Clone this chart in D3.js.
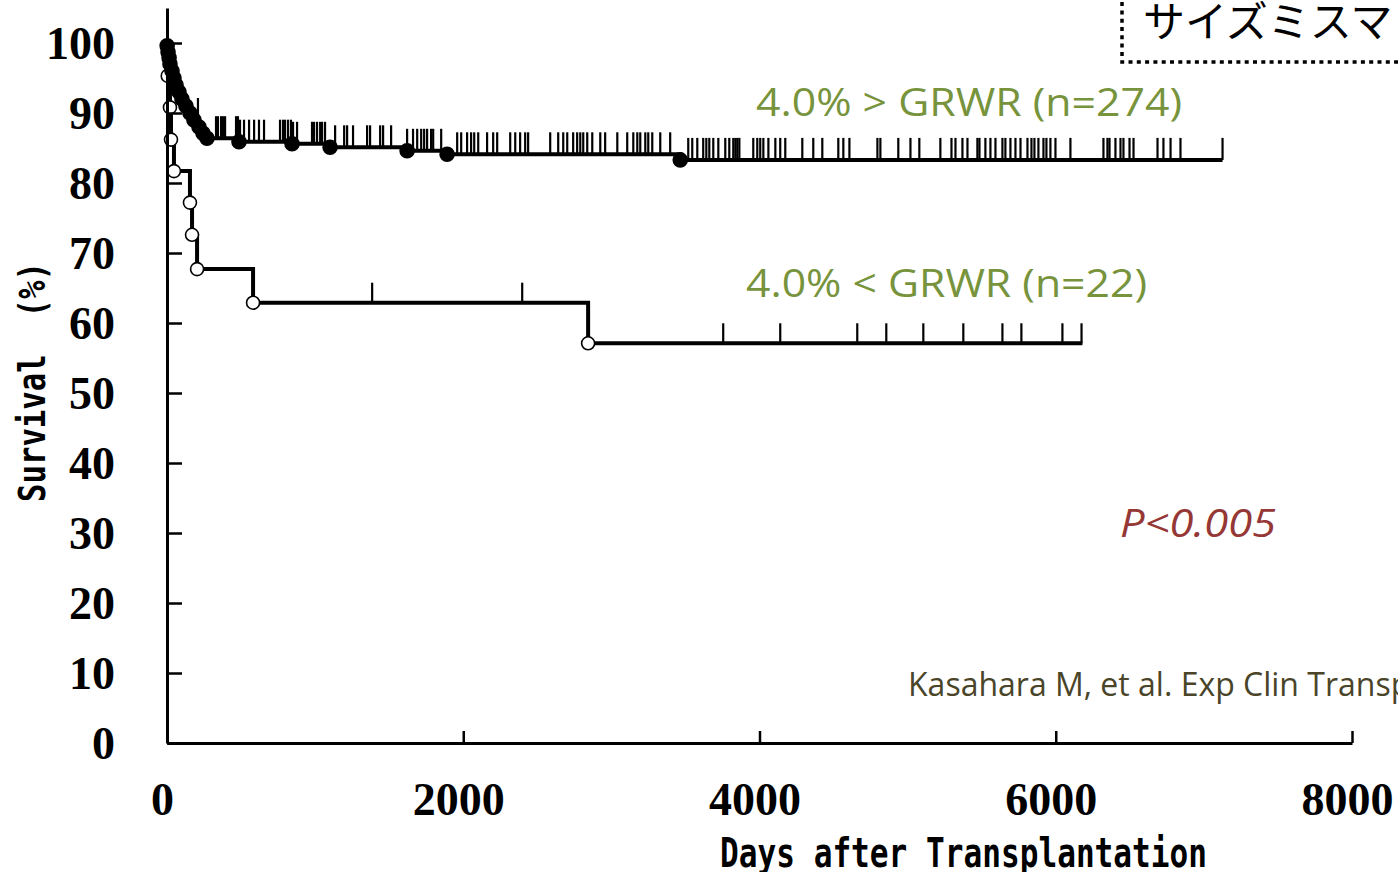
<!DOCTYPE html>
<html>
<head>
<meta charset="utf-8">
<script src="https://cdn.jsdelivr.net/npm/d3@7"></script>
<style>
  body { margin: 0; background: #fff; }
  svg { display: block; }
</style>
</head>
<body>
<div id="chart"></div>
<script>
// ---- data ----
// 4.0% > GRWR (n=274): events (filled dots) and censored days (ticks)
const g1EventDays = [1, 7, 14, 20, 34, 47, 61, 81, 101, 128, 155, 182, 216, 243, 270, 486, 844, 1101, 1621, 1891, 3465]
const g1EventSurv = [99.6, 98.7, 97.9, 97.0, 96.0, 95.0, 94.0, 93.0, 92.0, 91.0, 90.0, 89.0, 88.0, 87.1, 86.4, 85.9, 85.6, 85.1, 84.6, 84.1, 83.3]
const g1Censored = [209, 331, 344, 365, 378, 392, 466, 479, 493, 520, 554, 588, 621, 655, 763, 783, 797, 817, 837, 851, 878,
  979, 993, 1013, 1034, 1047, 1067, 1135, 1196, 1216, 1256, 1351, 1371, 1439, 1459, 1513, 1621, 1661, 1689, 1716, 1736,
  1756, 1783, 1797, 1851, 1959, 1986, 2026, 2053, 2074, 2101, 2161, 2202, 2229, 2317, 2351, 2384, 2418, 2438, 2587, 2641,
  2675, 2702, 2742, 2769, 2790, 2810, 2837, 2871, 2925, 2958, 3040, 3107, 3148, 3175, 3195, 3229, 3249, 3276, 3330, 3397,
  3519, 3546, 3580, 3620, 3641, 3661, 3688, 3722, 3769, 3796, 3823, 3837, 3850, 3864, 3958, 3985, 4005, 4026, 4060, 4107,
  4140, 4174, 4289, 4363, 4424, 4532, 4566, 4607, 4796, 4816, 4937, 5019, 5079, 5221, 5296, 5323, 5370, 5404, 5471, 5485,
  5525, 5559, 5593, 5640, 5660, 5694, 5728, 5762, 5809, 5836, 5856, 5883, 5917, 5937, 5964, 5998, 6099, 6322, 6349, 6363,
  6403, 6437, 6457, 6498, 6525, 6687, 6727, 6775, 6842, 7126]
const g1LastDay = 7126

// 4.0% < GRWR (n=22): events (open dots) and censored days
const g2EventDays = [5, 20, 27, 47, 155, 169, 203, 581, 2843]
const g2EventSurv = [95.3, 90.8, 86.2, 81.7, 77.2, 72.6, 67.7, 62.9, 57.1]
const g2Censored = [1385, 2398, 3755, 4140, 4660, 4856, 5106, 5376, 5640, 5768, 6045, 6174]
const g2LastDay = 6180

const yTicks = [0, 10, 20, 30, 40, 50, 60, 70, 80, 90, 100]
const xTicks = [0, 2000, 4000, 6000, 8000]

// ---- page ----
const W = 1398, H = 872

const svg = d3.select("#chart").append("svg")
  .attr("width", W)
  .attr("height", H)

const x = d3.scaleLinear().domain([0, 8000]).range([167, 1352])
const y = d3.scaleLinear().domain([0, 105]).range([743, 8])

// step curves
const line = d3.line()
  .x(d => x(d[0]))
  .y(d => y(d[1]))
  .curve(d3.curveStepAfter)

// survival at a day, from the step data
const survAt = (days, surv, t) => {
  let s = 100
  for (let i = 0; i < days.length; i++) {
    if (days[i] <= t) s = surv[i]
  }
  return s
}

const drawGroup = function(days, surv, lastDay, censored, tickLen, filled, r) {
  const pts = [[0, 100]].concat(days.map((d, i) => [d, surv[i]]))
  pts.push([lastDay, surv[surv.length - 1]])

  svg.append("path")
    .datum(pts)
    .attr("d", line)
    .attr("fill", "none")
    .attr("stroke", "#000")
    .attr("stroke-width", 4)

  svg.append("g").selectAll("line")
    .data(censored)
    .enter()
    .append("line")
      .attr("x1", d => x(d))
      .attr("x2", d => x(d))
      .attr("y1", d => y(survAt(days, surv, d)))
      .attr("y2", d => y(survAt(days, surv, d)) - tickLen)
      .attr("stroke", "#000")
      .attr("stroke-width", 2.2)

  svg.append("g").selectAll("circle")
    .data(days.map((d, i) => [d, surv[i]]))
    .enter()
    .append("circle")
      .attr("cx", d => x(d[0]))
      .attr("cy", d => y(d[1]))
      .attr("r", r)
      .attr("fill", filled ? "#000" : "#fff")
      .attr("stroke", "#000")
      .attr("stroke-width", 1.6)
}

drawGroup(g2EventDays, g2EventSurv, g2LastDay, g2Censored, 20, false, 6.5)
drawGroup(g1EventDays, g1EventSurv, g1LastDay, g1Censored, 22, true, 7)

// axes
const yAxis = svg.append("g")
  .attr("transform", `translate(${x(0)},0)`)
  .call(d3.axisLeft(y).tickValues(yTicks).tickSizeInner(-15).tickSizeOuter(0).tickPadding(52))
yAxis.select(".domain").attr("stroke-width", 3)
yAxis.selectAll(".tick line").attr("stroke-width", 2.5)
yAxis.selectAll("text")
  .attr("font-family", "'Liberation Serif', 'Times New Roman', serif")
  .attr("font-weight", "bold")
  .attr("font-size", 46)
  .attr("dy", "0.33em")
  .attr("fill", "#000")

const xAxis = svg.append("g")
  .attr("transform", `translate(0,${y(0)})`)
  .call(d3.axisBottom(x).tickValues(xTicks).tickFormat(d3.format("d")).tickSizeInner(-12).tickSizeOuter(0))
xAxis.select(".domain").attr("stroke-width", 3)
xAxis.selectAll(".tick line").attr("stroke-width", 2.5)
xAxis.selectAll("text")
  .attr("font-family", "'Liberation Serif', 'Times New Roman', serif")
  .attr("font-weight", "bold")
  .attr("font-size", 46)
  .attr("y", 72)
  .attr("dy", 0)
  .attr("dx", -5)
  .attr("fill", "#000")

// axis titles
svg.append("text")
  .attr("x", 720)
  .attr("y", 867)
  .attr("font-family", "'DejaVu Sans Mono', monospace")
  .attr("font-weight", "bold")
  .attr("font-size", 40)
  .attr("textLength", 487)
  .attr("lengthAdjust", "spacingAndGlyphs")
  .style("white-space", "pre")
  .text("Days after Transplantation")

svg.append("text")
  .attr("transform", "translate(45,502) rotate(-90)")
  .attr("font-family", "'DejaVu Sans Mono', monospace")
  .attr("font-weight", "bold")
  .attr("font-size", 38)
  .attr("textLength", 240)
  .attr("lengthAdjust", "spacingAndGlyphs")
  .style("white-space", "pre")
  .text("Survival  (%)")

// group labels
svg.append("text")
  .attr("x", 756)
  .attr("y", 116)
  .attr("font-family", "'Open Sans', 'Noto Sans', sans-serif")
  .attr("font-size", 39)
  .attr("textLength", 426)
  .attr("lengthAdjust", "spacingAndGlyphs")
  .attr("fill", "#77933C")
  .text("4.0% > GRWR (n=274)")

svg.append("text")
  .attr("x", 746)
  .attr("y", 297)
  .attr("font-family", "'Open Sans', 'Noto Sans', sans-serif")
  .attr("font-size", 39)
  .attr("textLength", 401)
  .attr("lengthAdjust", "spacingAndGlyphs")
  .attr("fill", "#77933C")
  .text("4.0% < GRWR (n=22)")

svg.append("text")
  .attr("x", 1120)
  .attr("y", 537)
  .attr("font-family", "'Open Sans', 'Noto Sans', sans-serif")
  .attr("font-style", "italic")
  .attr("font-size", 38)
  .attr("textLength", 156)
  .attr("lengthAdjust", "spacingAndGlyphs")
  .attr("fill", "#953735")
  .text("P<0.005")

// citation runs off the right edge, as in the slide
svg.append("text")
  .attr("x", 908)
  .attr("y", 696)
  .attr("font-family", "'Open Sans', 'Noto Sans', sans-serif")
  .attr("font-size", 32)
  .attr("fill", "#4A4529")
  .text("Kasahara M, et al. Exp Clin Transplant")

// dotted title box, running off the top right corner
svg.append("rect")
  .attr("x", 1122)
  .attr("y", -20)
  .attr("width", 400)
  .attr("height", 82)
  .attr("fill", "#fff")
  .attr("stroke", "#000")
  .attr("stroke-width", 3.5)
  .attr("stroke-dasharray", "4 4.3")

svg.append("text")
  .attr("x", 1143)
  .attr("y", 37)
  .attr("font-family", "'Noto Sans CJK JP', sans-serif")
  .attr("font-size", 42)
  .attr("fill", "#000")
  .text("サイズミスマッチ")
</script>
</body>
</html>
